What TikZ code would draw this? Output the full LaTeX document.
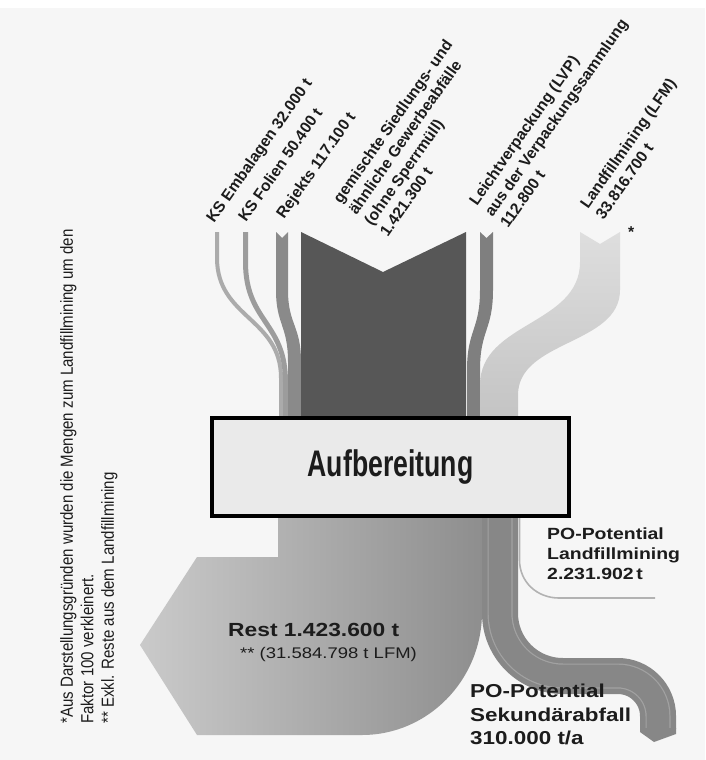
\documentclass[tikz,border=0pt]{standalone}
\usepackage{fontspec}
\setmainfont{Liberation Sans}
\newfontfamily\narrowfont[FakeStretch=0.72]{Liberation Sans}
\newfontfamily\notefont[FakeStretch=0.86]{Liberation Sans}
\newfontfamily\widefont[FakeStretch=1.2]{Liberation Sans}
\usetikzlibrary{calc}

\definecolor{bgcol}{HTML}{F6F6F6}
\definecolor{txt}{HTML}{1C1C1C}
\definecolor{ksA}{HTML}{ABABAB}
\definecolor{ksB}{HTML}{9C9C9C}
\definecolor{rej}{HTML}{8A8A8A}
\definecolor{mainflow}{HTML}{575757}
\definecolor{lvp}{HTML}{7F7F7F}
\definecolor{lfmtop}{HTML}{DEDEDE}
\definecolor{lfmbot}{HTML}{C4C4C4}
\definecolor{restL}{HTML}{CACACA}
\definecolor{restR}{HTML}{8E8E8E}
\definecolor{sek}{HTML}{878787}
\definecolor{sekline}{HTML}{A2A2A2}
\definecolor{lfmline}{HTML}{B2B2B2}
\definecolor{boxfill}{HTML}{EAEAEA}

\tikzset{
  toplabel/.style={font=\fontsize{15.7}{18}\selectfont\bfseries, text=txt,
                   anchor=base west, inner sep=0pt},
  outbold/.style={font=\widefont\fontsize{#1}{#1}\selectfont\bfseries, text=txt,
                  anchor=base west, inner sep=0pt},
  outplain/.style={font=\widefont\fontsize{#1}{#1}\selectfont, text=txt,
                   anchor=base west, inner sep=0pt},
  procbox/.style={draw=black, line width=4, fill=boxfill,
                  minimum width=357, minimum height=98, inner sep=0pt,
                  font=\narrowfont\fontsize{37}{37}\selectfont\bfseries, text=txt},
  notes/.style={font=\notefont\fontsize{17.5}{20.5}\selectfont, text=txt,
                inner sep=0pt, align=left}
}

\begin{document}
\begin{tikzpicture}[x=1pt,y=-1pt]
\useasboundingbox (0,0) rectangle (705,760);
\fill[white] (0,0) rectangle (705,760);
\fill[bgcol] (0,8) rectangle (705,760);

% incoming streams
\draw[ksA, line width=4] (217,232) -- (217,258)
  .. controls (217,318) and (281,318) .. (281,378) -- (281,417);
\draw[ksB, line width=5] (245.5,232) -- (245.5,262)
  .. controls (245.5,322) and (285.5,322) .. (285.5,382) -- (285.5,417);
\fill[rej] (276,232) -- (282,238) -- (288,232) -- (288,290)
  .. controls (288,325) and (301,325) .. (301,362) -- (301,417)
  -- (288,417) -- (288,362) .. controls (288,325) and (276,325) .. (276,290) -- cycle;
\fill[mainflow] (301,232) -- (383,272) -- (466,232) -- (466,417) -- (301,417) -- cycle;
\fill[lvp] (480,232) -- (486.5,238) -- (493,232) -- (493,290)
  .. controls (493,330) and (480,330) .. (480,370) -- (480,417)
  -- (467,417) -- (467,370) .. controls (467,330) and (480,330) .. (480,290) -- cycle;
\shade[top color=lfmtop, bottom color=lfmbot]
  (580,232) -- (600,244) -- (620,232) -- (620,290)
  .. controls (620,345) and (518,340) .. (518,395) -- (518,417)
  -- (480,417) -- (480,385) .. controls (480,322) and (580,325) .. (580,262) -- cycle;

% residual stream
\shade[left color=restL, right color=restR]
  (278,518) -- (278,557) -- (197,557) -- (140,645) -- (197,735) -- (362,735)
  .. controls (428,735) and (482,680) .. (482,612) -- (482,518) -- cycle;

% secondary waste stream
\foreach \w/\c in {36/sek, 25/sekline, 22.6/sek}
  \draw[line width=\w, \c] (500,518) -- (500,613)
    .. controls (500,648) and (528,676) .. (563,676) -- (618,676)
    .. controls (640,676) and (658,694) .. (658,716) -- (658,729);
\fill[sek] (640,728) -- (640,732) -- (654,742) -- (676,734) -- (676,728) -- cycle;

% landfill mining potential
\draw[lfmline, line width=1.6] (519.5,518) -- (519.5,560)
  .. controls (519.5,582) and (537,598) .. (559,598) -- (655,598);

% process box
\node[procbox] (auf) at (390.5,467) {Aufbereitung};

% input labels
\node[toplabel, rotate=55] (ksemb) at (214,224) {KS Embalagen 32.000 t};
\node[toplabel, rotate=55] (ksfol) at (246,223) {KS Folien 50.400 t};
\node[toplabel, rotate=55] (rejl) at (284,220) {Rejekts 117.100 t};
\begin{scope}[shift={(341,205)}, rotate=55, transform shape]
  \node[toplabel] (gem1) at (0,0) {gemischte Siedlungs- und};
  \node[toplabel] (gem2) at (0,19) {ähnliche Gewerbeabfälle};
  \node[toplabel] (gem3) at (0,38) {(ohne Sperrmüll)};
  \node[toplabel] (gem4) at (0,57) {1.421.300 t};
\end{scope}
\begin{scope}[shift={(477,207)}, rotate=55, transform shape]
  \node[toplabel] (lvp1) at (0,0) {Leichtverpackung (LVP)};
  \node[toplabel] (lvp2) at (0,19) {aus der Verpackungssammlung};
  \node[toplabel] (lvp3) at (0,38) {112.800 t};
\end{scope}
\begin{scope}[shift={(588,210)}, rotate=55, transform shape]
  \node[toplabel] (lfm1) at (0,0) {Landfillmining (LFM)};
  \node[toplabel] (lfm2) at (0,19) {33.816.700 t};
\end{scope}
\node[toplabel] (star) at (628,237) {*};

% output labels
\node[outbold=19] (rest1) at (228,636) {Rest 1.423.600 t};
\node[outplain=15.4] (rest2) at (240,658) {** (31.584.798 t LFM)};
\node[outbold=16.2] (pol1) at (547,539) {PO-Potential};
\node[outbold=16.2] (pol2) at (547,559) {Landfillmining};
\node[outbold=16.2] (pol3) at (547,579) {2.231.902\,t};
\node[outbold=18.7] (pos1) at (470,697) {PO-Potential};
\node[outbold=18.7] (pos2) at (470,721) {Sekundärabfall};
\node[outbold=18.7] (pos3) at (470,744) {310.000 t/a};

% footnotes
\node[notes, rotate=90, anchor=north west] (fn) at (60,724)
  {*Aus Darstellungsgründen wurden die Mengen zum Landfillmining um den\\
   Faktor 100 verkleinert.\\
   ** Exkl. Reste aus dem Landfillmining};
\end{tikzpicture}
\end{document}
